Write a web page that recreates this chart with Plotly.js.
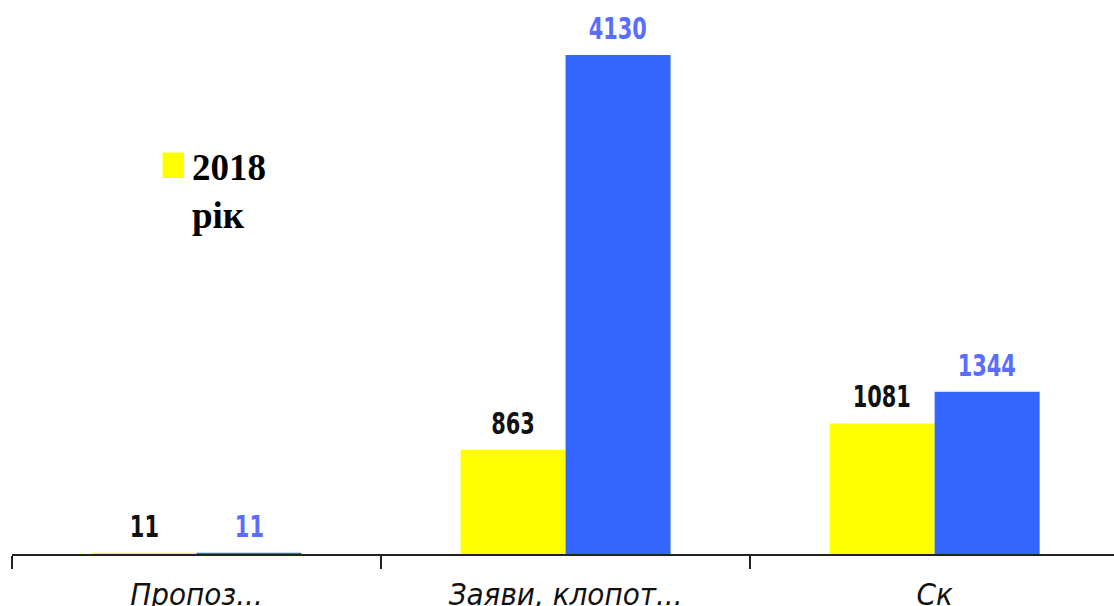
<!DOCTYPE html>
<html>
<head>
<meta charset="utf-8">
<script src="https://cdn.plot.ly/plotly-3.0.1.min.js"></script>
<style>html,body{margin:0;padding:0;background:#fff;}#chart{width:1114px;height:606px;}</style>
</head>
<body>
<div id="chart"></div>
<script>
const categories = ["Пропоз...", "Заяви, клопот...", "Ск"];
const seriesNames = ["2018<br>рік", "2019<br>рік"];
const values2018 = [11, 863, 1081];
const values2019 = [11, 4130, 1344];

const W = 1114, H = 606;
const mL = 12, mR = 0, mT = 0, mB = 52;
const pw = W - mL - mR, ph = H - mT - mB;
const px2x = p => (p - mL) / pw;
const px2y = p => (H - mB - p) / ph;

const yellow = "#ffff00", blue = "#3366ff";
const labelFont = "Liberation Sans Narrow, Arial Narrow, DejaVu Sans Condensed, sans-serif";

const traces = [
  {type: "bar", name: seriesNames[0], x: categories, y: values2018,
   marker: {color: yellow}, showlegend: false, hoverinfo: "x+y"},
  {type: "bar", name: seriesNames[1], x: categories, y: values2019,
   marker: {color: blue}, showlegend: false, hoverinfo: "x+y"}
];

const annotations = [];
const barHalf = 52.5;
categories.forEach((c, i) => {
  annotations.push({x: c, y: values2018[i], xref: "x", yref: "y", text: String(values2018[i]),
    showarrow: false, xshift: -barHalf, yshift: 7, yanchor: "bottom",
    font: {family: labelFont, size: 31, color: "#111111", weight: "bold"}});
  annotations.push({x: c, y: values2019[i], xref: "x", yref: "y", text: String(values2019[i]),
    showarrow: false, xshift: barHalf, yshift: 7, yanchor: "bottom",
    font: {family: labelFont, size: 31, color: "#5a6dff", weight: "bold"}});
});
const nValueLabels = annotations.length;
// legend text (custom, only first series visible as in reference)
annotations.push({xref: "paper", yref: "paper", x: px2x(190), y: px2y(145),
  xanchor: "left", yanchor: "top", align: "left", showarrow: false,
  text: seriesNames[0],
  font: {family: "Liberation Serif, Times New Roman, serif", size: 37, color: "#000000", weight: "bold"}});

const layout = {
  width: W, height: H,
  margin: {l: mL, r: mR, t: mT, b: mB, pad: 0},
  paper_bgcolor: "#ffffff", plot_bgcolor: "#ffffff",
  barmode: "group", bargap: 0.431, bargroupgap: 0,
  showlegend: false,
  xaxis: {
    type: "category", range: [-0.5, 2.486],
    showline: true, linecolor: "#222222", linewidth: 2,
    ticks: "outside", tickson: "boundaries", ticklen: 13, tickcolor: "#222222", tickwidth: 1.5,
    ticklabelstandoff: 12,
    tickfont: {family: labelFont, size: 31, color: "#111111", style: "italic"},
    showgrid: false, zeroline: false, fixedrange: true
  },
  yaxis: {
    range: [0, 4586], visible: false, showgrid: false, zeroline: false, fixedrange: true
  },
  shapes: [
    {type: "rect", xref: "paper", yref: "paper",
     x0: px2x(162.5), x1: px2x(184), y0: px2y(178), y1: px2y(152.5),
     fillcolor: yellow, line: {width: 0}}
  ],
  annotations: annotations
};

Plotly.newPlot("chart", traces, layout, {staticPlot: true, displayModeBar: false}).then(gd => {
  // narrow the value labels to mimic a condensed bold face
  gd.querySelectorAll("g.annotation").forEach(g => {
    const idx = +g.getAttribute("data-index");
    if (idx < nValueLabels) {
      const t = g.querySelector("text.annotation-text");
      if (t) {
        t.style.transformBox = "fill-box";
        t.style.transformOrigin = "center";
        t.style.transform = "scaleX(0.75)";
      }
    }
  });
});
</script>
</body>
</html>
